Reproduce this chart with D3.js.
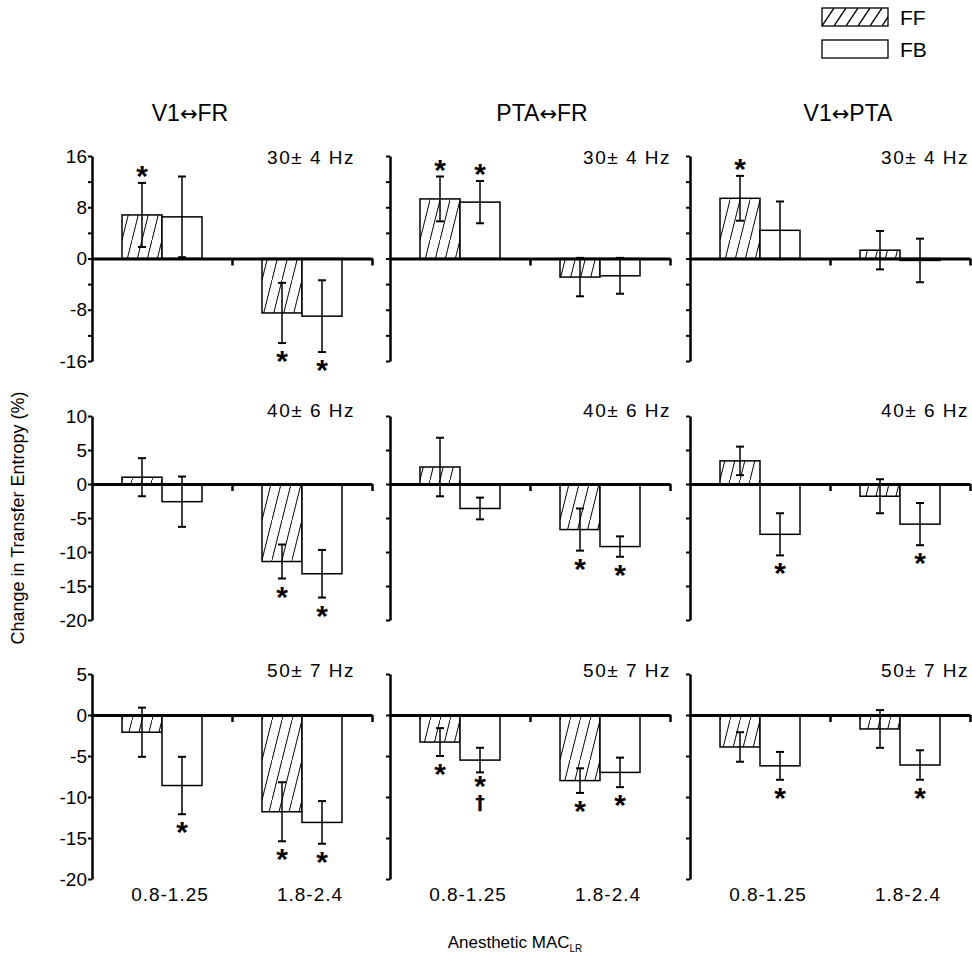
<!DOCTYPE html>
<html>
<head>
<meta charset="utf-8">
<script src="https://cdn.jsdelivr.net/npm/d3@7"></script>
<style>
  body { margin: 0; background: #fff; }
  svg { font-family: "Liberation Sans", Arial, sans-serif; }
</style>
</head>
<body>
<div id="chart"></div>
<script>
// pathway pairs (columns), frequency bands (rows), dose groups (x categories)
const pairs = [["V1", "FR"], ["PTA", "FR"], ["V1", "PTA"]];
const bandLabels = ["30± 4 Hz", "40± 6 Hz", "50± 7 Hz"];
const doses = ["0.8-1.25", "1.8-2.4"];
const series = ["FF", "FB"];

// y range and ticks for each row
const yDomains = [[-16, 16], [-20, 10], [-20, 5]];
const yTickStep = [4, 5, 5];
const yLabelStep = [8, 5, 5];

// means and SEM, [row][col][dose]
const ffMean = [
  [[6.8, -8.5], [9.3, -2.9], [9.4, 1.3]],
  [[1.0, -11.4], [2.5, -6.7], [3.4, -1.8]],
  [[-2.1, -11.8], [-3.3, -8.0], [-3.9, -1.7]]
];
const ffErr = [
  [[5.0, 4.7], [3.5, 3.0], [3.5, 3.0]],
  [[2.8, 2.5], [4.3, 3.1], [2.1, 2.5]],
  [[3.0, 3.6], [1.7, 1.5], [1.8, 2.3]]
];
const fbMean = [
  [[6.5, -9.0], [8.8, -2.7], [4.4, -0.3]],
  [[-2.6, -13.2], [-3.6, -9.2], [-7.4, -5.9]],
  [[-8.6, -13.1], [-5.5, -7.0], [-6.2, -6.1]]
];
const fbErr = [
  [[6.3, 5.6], [3.3, 2.8], [4.5, 3.4]],
  [[3.7, 3.5], [1.6, 1.5], [3.1, 3.1]],
  [[3.5, 2.6], [1.5, 1.8], [1.7, 1.8]]
];
// significance marks
const ffMark = [
  [["*", "*"], ["*", ""], ["*", ""]],
  [["", "*"], ["", "*"], ["", ""]],
  [["", "*"], ["*", "*"], ["", ""]]
];
const fbMark = [
  [["", "*"], ["*", ""], ["", ""]],
  [["", "*"], ["", "*"], ["*", "*"]],
  [["*", "*"], ["*†", "*"], ["*", "*"]]
];

const width = 972, height = 958;
const panelX = [92, 390, 690];
const panelW = 280;
const panelY = [[156, 361], [416, 620], [674, 879]];
const freqRight = [355, 671, 969];
const titleX = [190, 542, 848];

const svg = d3.select("#chart").append("svg")
  .attr("width", width)
  .attr("height", height);

const defs = svg.append("defs");
defs.append("pattern")
  .attr("id", "hatch")
  .attr("patternUnits", "userSpaceOnUse")
  .attr("width", 10).attr("height", 40)
  .call(p => {
    p.append("rect").attr("width", 10).attr("height", 40).attr("fill", "#fff");
    p.append("path").attr("d", "M0,40L10,0").attr("stroke", "#000").attr("stroke-width", 1);
  });
defs.append("pattern")
  .attr("id", "hatchLegend")
  .attr("patternUnits", "userSpaceOnUse")
  .attr("width", 12).attr("height", 18)
  .call(p => {
    p.append("rect").attr("width", 12).attr("height", 18).attr("fill", "#fff");
    p.append("path").attr("d", "M0,18L12,0").attr("stroke", "#000").attr("stroke-width", 1.3);
  });

const xDose = d3.scaleBand().domain(doses).range([0, panelW]);
const xSeries = d3.scaleBand().domain(series).range([30, 110]);

pairs.forEach((pair, c) => {
  const t = svg.append("text")
    .attr("x", titleX[c]).attr("y", 121)
    .attr("text-anchor", "middle")
    .attr("font-size", 23);
  t.append("tspan").text(pair[0]);
  t.append("tspan").attr("font-family", "DejaVu Sans").attr("font-size", 21).text("↔");
  t.append("tspan").text(pair[1]);
});

bandLabels.forEach((band, r) => {
  const y = d3.scaleLinear().domain(yDomains[r]).range([panelY[r][1], panelY[r][0]]);
  const ticks = d3.range(yDomains[r][0], yDomains[r][1] + 0.001, yTickStep[r]);

  pairs.forEach((pair, c) => {
    const g = svg.append("g").attr("transform", `translate(${panelX[c]},0)`);

    const rows = [];
    doses.forEach((dose, d) => {
      rows.push({dose, s: "FF", mean: ffMean[r][c][d], err: ffErr[r][c][d], mark: ffMark[r][c][d]});
      rows.push({dose, s: "FB", mean: fbMean[r][c][d], err: fbErr[r][c][d], mark: fbMark[r][c][d]});
    });
    const bx = d => xDose(d.dose) + xSeries(d.s);
    const bw = xSeries.bandwidth();

    // bars
    g.selectAll("rect.bar").data(rows).join("rect")
      .attr("class", "bar")
      .attr("x", bx)
      .attr("width", bw)
      .attr("y", d => Math.min(y(d.mean), y(0)))
      .attr("height", d => Math.abs(y(d.mean) - y(0)))
      .attr("fill", d => d.s === "FF" ? "url(#hatch)" : "#fff")
      .attr("stroke", "#000")
      .attr("stroke-width", 1.5);

    // error bars
    const eb = g.selectAll("g.err").data(rows).join("g").attr("class", "err");
    eb.append("line")
      .attr("x1", d => bx(d) + bw / 2).attr("x2", d => bx(d) + bw / 2)
      .attr("y1", d => y(d.mean - d.err)).attr("y2", d => y(d.mean + d.err))
      .attr("stroke", "#000").attr("stroke-width", 1.5);
    [-1, 1].forEach(sign => {
      eb.append("line")
        .attr("x1", d => bx(d) + bw / 2 - 4).attr("x2", d => bx(d) + bw / 2 + 4)
        .attr("y1", d => y(d.mean + sign * d.err)).attr("y2", d => y(d.mean + sign * d.err))
        .attr("stroke", "#000").attr("stroke-width", 2);
    });

    // significance marks (star, optionally with a dagger stacked below it)
    rows.filter(d => d.mark).forEach(d => {
      const cx = bx(d) + bw / 2;
      const up = d.mean > 0;
      const dagger = d.mark.includes("†");
      const mark = g.append("text")
        .attr("x", cx)
        .attr("text-anchor", "middle")
        .attr("font-weight", "bold")
        .attr("fill", "#000");
      mark.append("tspan").attr("font-size", 30).text("*");
      if (up) {
        mark.attr("y", y(d.mean + d.err) + 3);
      } else {
        mark.attr("y", y(d.mean - d.err) + (dagger ? 24 : 28));
        if (dagger) {
          mark.append("tspan")
            .attr("x", cx)
            .attr("dy", 13)
            .attr("font-size", 19)
            .attr("font-family", "DejaVu Sans")
            .attr("fill", "#000")
            .text("†");
        }
      }
    });

    // y axis
    const yAxis = d3.axisLeft(y)
      .tickValues(ticks)
      .tickSize(4)
      .tickSizeOuter(0)
      .tickFormat(v => (c === 0 && v % yLabelStep[r] === 0) ? v : "");
    g.append("g").call(yAxis)
      .call(a => a.select(".domain").attr("stroke-width", 2.5))
      .call(a => a.selectAll(".tick line").attr("stroke-width", 2))
      .call(a => a.selectAll(".tick text")
        .attr("font-size", 19)
        .attr("font-family", "Liberation Sans, Arial, sans-serif")
        .attr("fill", "#000")
        .attr("x", -5));

    // zero line with dose separators
    const xLin = d3.scaleLinear().domain([0, doses.length]).range([0, panelW]);
    g.append("g")
      .attr("transform", `translate(0,${y(0)})`)
      .call(d3.axisBottom(xLin).tickValues([1, 2]).tickSize(7).tickSizeOuter(0).tickFormat(""))
      .call(a => a.select(".domain").attr("stroke-width", 3))
      .call(a => a.selectAll(".tick line").attr("stroke-width", 2.5));

    // frequency band label
    svg.append("text")
      .attr("x", freqRight[c])
      .attr("y", panelY[r][0] + [8, 1, 3][r])
      .attr("text-anchor", "end")
      .attr("font-size", 19)
      .attr("letter-spacing", 1.5)
      .text(band);

    // dose labels on bottom row
    if (r === bandLabels.length - 1) {
      doses.forEach(dose => {
        g.append("text")
          .attr("x", xDose(dose) + xDose.bandwidth() / 2 + 8)
          .attr("y", 901)
          .attr("text-anchor", "middle")
          .attr("font-size", 19)
          .attr("letter-spacing", 1)
          .text(dose);
      });
    }
  });
});

// axis titles
svg.append("text")
  .attr("transform", "translate(24,518) rotate(-90)")
  .attr("text-anchor", "middle")
  .attr("font-size", 18)
  .text("Change in Transfer Entropy (%)");

const xt = svg.append("text")
  .attr("x", 515).attr("y", 948)
  .attr("text-anchor", "middle")
  .attr("font-size", 17);
xt.append("tspan").text("Anesthetic MAC");
xt.append("tspan").attr("font-size", 10).attr("dy", 4).text("LR");

// legend
const legend = svg.append("g").attr("transform", "translate(822,8)");
series.forEach((s, i) => {
  legend.append("rect")
    .attr("x", 0).attr("y", i * 32)
    .attr("width", 66).attr("height", 18)
    .attr("fill", s === "FF" ? "url(#hatchLegend)" : "#fff")
    .attr("stroke", "#000").attr("stroke-width", 1.3);
  legend.append("text")
    .attr("x", 78).attr("y", i * 32 + 17)
    .attr("font-size", 21)
    .text(s);
});
</script>
</body>
</html>
